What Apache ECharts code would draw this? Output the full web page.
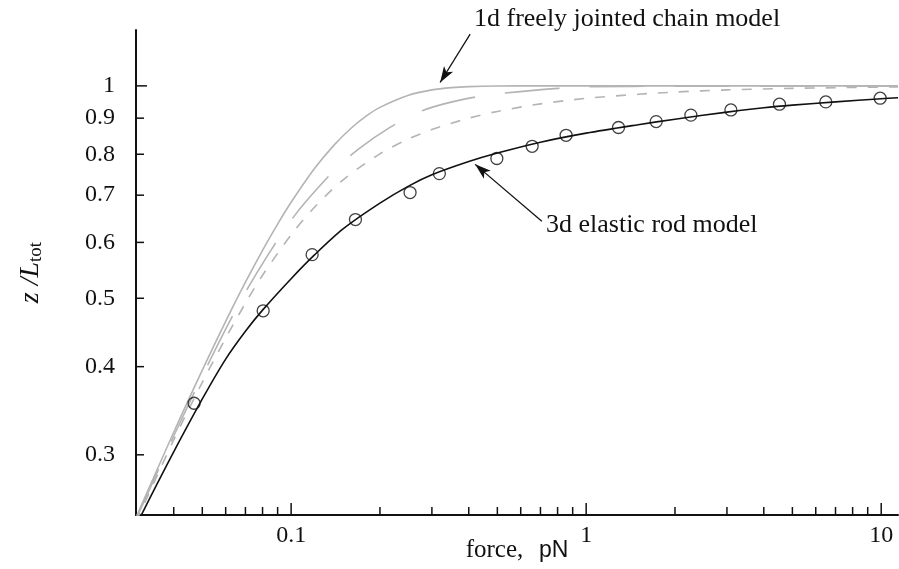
<!DOCTYPE html>
<html>
<head>
<meta charset="utf-8">
<script src="https://cdn.jsdelivr.net/npm/echarts@6/dist/echarts.min.js"></script>
<style>
  html, body { margin: 0; padding: 0; background: #fff; }
  #chart { width: 899px; height: 569px; }
</style>
</head>
<body>
<div id="chart"></div>
<script>
// axis range (log axes)
var X_MIN = 0.0298, X_MAX = 11.4;
var Y_MIN = 0.2465, Y_MAX = 1.2;

// tick marks and labels
var xMajorTicks = [0.1, 1, 10];
var xMinorTicks = [0.04, 0.05, 0.06, 0.07, 0.08, 0.09, 0.2, 0.3, 0.4, 0.5, 0.6, 0.7, 0.8, 0.9, 2, 3, 4, 5, 6, 7, 8, 9];
var yMajorTicks = [1];
var yMinorTicks = [0.3, 0.4, 0.5, 0.6, 0.7, 0.8, 0.9];

// 1d freely jointed chain (grey solid)
var fjc1dForce = [0.0298, 0.035, 0.04, 0.045, 0.05, 0.06, 0.07, 0.08, 0.09, 0.1, 0.12, 0.14, 0.16, 0.18, 0.2, 0.25, 0.3, 0.35, 0.4, 0.5, 0.7, 1, 2, 5, 11.4];
var fjc1dExt = [0.2445, 0.2848, 0.3229, 0.3598, 0.3956, 0.4638, 0.5269, 0.5848, 0.6370, 0.6840, 0.7635, 0.8249, 0.8715, 0.9065, 0.9322, 0.9699, 0.9869, 0.9943, 0.9975, 0.9995, 1.0, 1.0, 1.0, 1.0, 1.0];

// long dashed grey curve
var longDashForce = [0.0298, 0.04, 0.05, 0.06, 0.07, 0.0837, 0.1, 0.113, 0.141, 0.17, 0.217, 0.271, 0.33, 0.421, 0.532, 0.804, 1.03, 2, 5, 11.4];
var longDashExt = [0.243, 0.319, 0.388, 0.452, 0.510, 0.577, 0.645, 0.688, 0.761, 0.815, 0.874, 0.918, 0.943, 0.964, 0.977, 0.992, 0.997, 0.999, 1.0, 1.0];

// short dashed grey curve
var shortDashForce = [0.0298, 0.04, 0.05, 0.06, 0.07, 0.08, 0.1, 0.12, 0.15, 0.2, 0.25, 0.3, 0.4, 0.5, 0.7, 1, 1.5, 2, 3, 5, 7, 11.4];
var shortDashExt = [0.241, 0.315, 0.380, 0.439, 0.492, 0.539, 0.615, 0.673, 0.736, 0.801, 0.841, 0.867, 0.900, 0.920, 0.943, 0.960, 0.973, 0.980, 0.987, 0.992, 0.994, 0.9965];

// 3d elastic rod model (black solid)
var rodForce = [0.031, 0.035, 0.04, 0.05, 0.06, 0.07, 0.08, 0.1, 0.12, 0.15, 0.2, 0.25, 0.3, 0.4, 0.5, 0.7, 1, 1.5, 2, 3, 4, 5, 7, 10, 11.4];
var rodExt = [0.246, 0.272, 0.303, 0.360, 0.410, 0.449, 0.481, 0.533, 0.576, 0.627, 0.682, 0.721, 0.748, 0.781, 0.803, 0.832, 0.857, 0.881, 0.897, 0.918, 0.931, 0.939, 0.949, 0.959, 0.962];

// measured points (circles)
var dataForce = [0.0469, 0.0804, 0.1178, 0.1652, 0.253, 0.318, 0.498, 0.656, 0.855, 1.287, 1.727, 2.264, 3.094, 4.52, 6.49, 9.92];
var dataExt = [0.355, 0.480, 0.5765, 0.6465, 0.706, 0.751, 0.789, 0.821, 0.851, 0.873, 0.890, 0.909, 0.9245, 0.942, 0.949, 0.9605];

var SERIF = '"Liberation Serif", "Times New Roman", serif';
var GREY = '#b4b4b4';

function zip(xs, ys) {
	return xs.map(function (x, i) { return [x, ys[i]]; });
}

// tick marks drawn through the axes' own scales
function tickSeries(values, dir, len) {
	return {
		type : 'custom',
		silent : true,
		clip : false,
		z : 10,
		data : values.map(function (v) { return dir === 'x' ? [v, Y_MIN] : [X_MIN, v]; }),
		renderItem : function (params, api) {
			var p = api.coord([api.value(0), api.value(1)]);
			var shape = dir === 'x'
				? { x1 : p[0], y1 : p[1], x2 : p[0], y2 : p[1] - len }
				: { x1 : p[0], y1 : p[1], x2 : p[0] + len, y2 : p[1] };
			return {
				type : 'line',
				shape : shape,
				style : { stroke : '#111', lineWidth : 1.5 }
			};
		}
	};
}

function labelSeries(values, dir) {
	return {
		type : 'custom',
		silent : true,
		clip : false,
		z : 10,
		data : values.map(function (v) { return dir === 'x' ? [v, Y_MIN] : [X_MIN, v]; }),
		renderItem : function (params, api) {
			var p = api.coord([api.value(0), api.value(1)]);
			var v = dir === 'x' ? api.value(0) : api.value(1);
			return {
				type : 'text',
				style : {
					text : String(v),
					x : dir === 'x' ? p[0] : p[0] - 21,
					y : dir === 'x' ? p[1] + 9 : p[1],
					align : dir === 'x' ? 'center' : 'right',
					verticalAlign : dir === 'x' ? 'top' : 'middle',
					font : '24px ' + SERIF,
					fill : '#111'
				}
			};
		}
	};
}

var chart = echarts.init(document.getElementById('chart'));

var option = {
	animation : false,
	backgroundColor : '#fff',
	grid : {
		left : 136,
		right : 1,
		top : 30,
		bottom : 54,
		containLabel : false,
		outerBoundsMode : 'none'
	},
	xAxis : {
		type : 'log',
		logBase : 10,
		min : X_MIN,
		max : X_MAX,
		name : '{a|force,}    {b|pN}',
		nameLocation : 'middle',
		nameGap : 23,
		nameTextStyle : {
			fontSize : 14,
			rich : {
				a : { fontFamily : SERIF, fontSize : 25, color : '#111' },
				b : { fontFamily : '"Liberation Sans", Arial, sans-serif', fontSize : 23, color : '#111' }
			}
		},
		axisLine : { onZero : false, lineStyle : { color : '#111', width : 2 } },
		axisTick : { show : false },
		axisLabel : { show : false },
		splitLine : { show : false }
	},
	yAxis : {
		type : 'log',
		logBase : 10,
		min : Y_MIN,
		max : Y_MAX,
		name : '{i|z /L}{s|tot}',
		nameLocation : 'middle',
		nameRotate : 90,
		nameGap : 90,
		nameTextStyle : {
			rich : {
				i : { fontFamily : SERIF, fontStyle : 'italic', fontSize : 28, lineHeight : 30, color : '#111' },
				s : { fontFamily : SERIF, fontSize : 19, lineHeight : 18, verticalAlign : 'bottom', color : '#111' }
			}
		},
		axisLine : { onZero : false, lineStyle : { color : '#111', width : 2 } },
		axisTick : { show : false },
		axisLabel : { show : false },
		splitLine : { show : false }
	},
	graphic : [ {
		type : 'text',
		left : 474,
		top : 6,
		style : { text : '1d freely jointed chain model', font : '26px ' + SERIF, fill : '#111' }
	}, {
		type : 'text',
		left : 546,
		top : 212,
		style : { text : '3d elastic rod model', font : '26px ' + SERIF, fill : '#111' }
	} ],
	series : [ {
		name : '1d FJC',
		type : 'line',
		data : zip(fjc1dForce, fjc1dExt),
		smooth : 0.3,
		showSymbol : false,
		lineStyle : { color : GREY, width : 1.6 },
		z : 2
	}, {
		name : 'long dash',
		type : 'line',
		data : zip(longDashForce, longDashExt),
		smooth : 0.3,
		showSymbol : false,
		lineStyle : { color : GREY, width : 1.6, type : [55, 30] },
		z : 2
	}, {
		name : 'short dash',
		type : 'line',
		data : zip(shortDashForce, shortDashExt),
		smooth : 0.3,
		showSymbol : false,
		lineStyle : { color : GREY, width : 1.6, type : [10, 11] },
		z : 2
	}, {
		name : '3d elastic rod',
		type : 'line',
		data : zip(rodForce, rodExt),
		smooth : 0.3,
		showSymbol : false,
		lineStyle : { color : '#111', width : 1.6 },
		z : 3,
		markLine : {
			silent : true,
			symbol : [ 'none', 'arrow' ],
			symbolSize : [ 8, 16 ],
			label : { show : false },
			lineStyle : { color : '#111', width : 1.3, type : 'solid' },
			data : [
				[ { coord : [ 0.4044, 1.184 ] }, { coord : [ 0.3199, 1.011 ] } ],
				[ { coord : [ 0.7075, 0.643 ] }, { coord : [ 0.4204, 0.774 ] } ]
			]
		}
	}, {
		name : 'data',
		type : 'scatter',
		data : zip(dataForce, dataExt),
		symbol : 'circle',
		symbolSize : 12,
		itemStyle : { color : 'rgba(0,0,0,0)', borderColor : '#111', borderWidth : 1.3 },
		z : 4
	},
	tickSeries(xMajorTicks, 'x', 12),
	tickSeries(xMinorTicks, 'x', 8),
	tickSeries(yMajorTicks, 'y', 11),
	tickSeries(yMinorTicks, 'y', 8),
	labelSeries(xMajorTicks, 'x'),
	labelSeries(yMajorTicks.concat(yMinorTicks), 'y') ]
};

chart.setOption(option);
</script>
</body>
</html>
